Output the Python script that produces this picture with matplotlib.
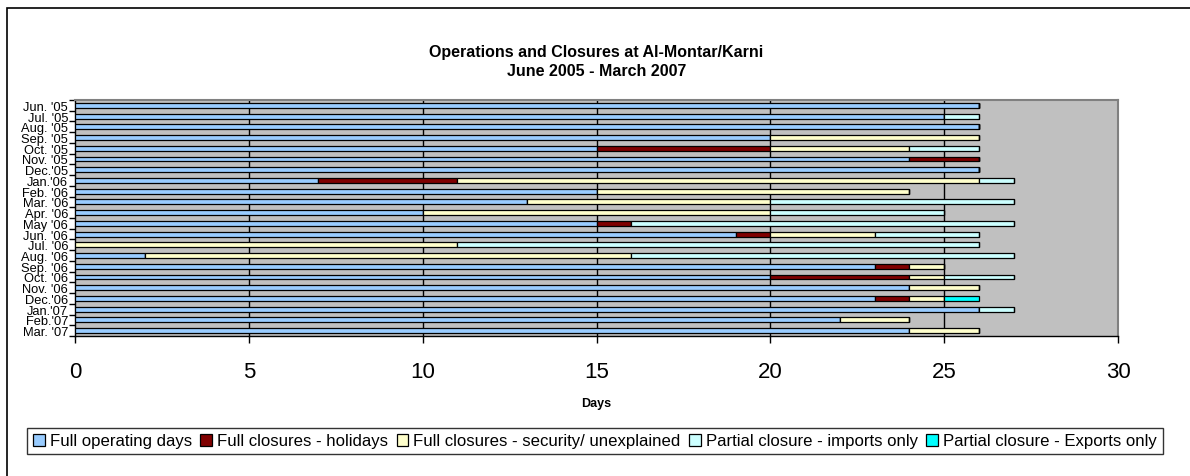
import numpy as np
import matplotlib.pyplot as plt
from matplotlib.patches import Rectangle

plt.rcParams['font.family'] = ['Liberation Sans', 'DejaVu Sans']

# months (top to bottom)
months = ["Jun. '05", "Jul. '05", "Aug. '05", "Sep. '05", "Oct. '05", "Nov. '05",
          "Dec.'05", "Jan.'06", "Feb. '06", "Mar. '06", "Apr. '06", "May '06",
          "Jun. '06", "Jul. '06", "Aug. '06", "Sep. '06", "Oct. '06", "Nov. '06",
          "Dec.'06", "Jan.'07", "Feb.'07", "Mar. '07"]

# days per category
operating = [26, 25, 26, 20, 15, 24, 26, 7, 15, 13, 10, 15, 19, 0, 2, 23, 20, 24, 23, 26, 22, 24]
holidays  = [0, 0, 0, 0, 5, 2, 0, 4, 0, 0, 0, 1, 1, 0, 0, 1, 4, 0, 1, 0, 0, 0]
security  = [0, 0, 0, 6, 4, 0, 0, 15, 9, 7, 10, 0, 3, 11, 14, 1, 1, 2, 1, 0, 2, 2]
imports   = [0, 1, 0, 0, 2, 0, 0, 1, 0, 7, 5, 11, 3, 15, 11, 0, 2, 0, 0, 1, 0, 0]
exports   = [0, 0, 0, 0, 0, 0, 0, 0, 0, 0, 0, 0, 0, 0, 0, 0, 0, 0, 1, 0, 0, 0]

series = [
    ("Full operating days", operating, "#99CCFF"),
    ("Full closures - holidays", holidays, "#800000"),
    ("Full closures - security/ unexplained", security, "#FFFFCC"),
    ("Partial closure - imports only", imports, "#CCFFFF"),
    ("Partial closure - Exports only", exports, "#00FFFF"),
]

fig = plt.figure(figsize=(11.9, 4.77), dpi=100)
ax = fig.add_axes([75/1190, 1 - 337/477, (1118 - 75)/1190, (337 - 101)/477])
ax.set_facecolor("#C0C0C0")

y = np.arange(len(months))
left = np.zeros(len(months))
for name, vals, col in series:
    vals = np.array(vals, dtype=float)
    ax.barh(y, vals, left=left, height=0.45, color=col, edgecolor="black",
            linewidth=0.9, label=name, zorder=3)
    left += vals

ax.set_xlim(0, 30)
ax.set_ylim(len(months) - 0.5, -0.5)
ax.set_xticks(range(0, 31, 5))
ax.tick_params(axis="x", labelsize=16, direction="out", length=5, width=1, pad=13)
ax.set_yticks(y)
ax.set_yticklabels(months, fontsize=9.3)
ax.tick_params(axis="y", which="major", length=0, pad=5)
ax.set_yticks(np.arange(-0.5, len(months), 1), minor=True)
ax.tick_params(axis="y", which="minor", length=4, direction="out", width=1)
for sp in ["top", "right"]:
    ax.spines[sp].set_color("#808080")
    ax.spines[sp].set_linewidth(1.5)
ax.spines["left"].set_linewidth(1)
ax.spines["bottom"].set_linewidth(1)
for xv in range(5, 30, 5):
    ax.axvline(xv, color="black", linewidth=1, zorder=1)

ax.set_xlabel("Days", fontsize=9, fontweight="bold", labelpad=11)

fig.text(0.501, 1 - 62/477, "Operations and Closures at Al-Montar/Karni\nJune 2005 - March 2007",
         ha="center", va="center", fontsize=11.5, fontweight="bold", linespacing=1.25)

# outer chart border
fig.patches.append(Rectangle((7/1190, -0.1), 1.2, 1.1 - 9/477, transform=fig.transFigure,
                             fill=False, edgecolor="black", linewidth=1.2))

leg = fig.legend(loc="center", bbox_to_anchor=(595/1190, 1 - 442/477), ncol=5,
                 fontsize=12.1, frameon=True, fancybox=False, edgecolor="black",
                 handlelength=0.7, handleheight=0.7, handletextpad=0.3,
                 columnspacing=0.5, borderpad=0.35)
leg.get_frame().set_linewidth(1)

fig.savefig("out.png", dpi=100)
